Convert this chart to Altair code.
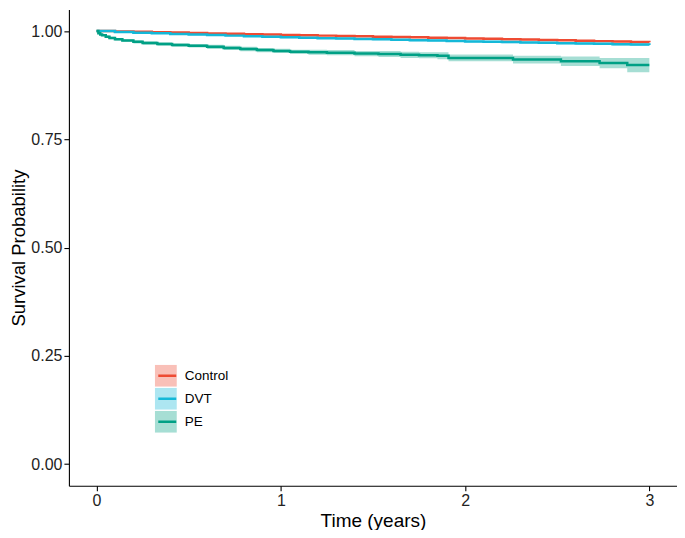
import altair as alt
import pandas as pd

groups = ["Control", "DVT", "PE"]
line_colors = ["#EE4B33", "#14B8D8", "#00A085"]

grid_t = [0.0, 0.1, 0.2, 0.3, 0.4, 0.5, 0.6, 0.7, 0.8, 0.9, 1.0, 1.1, 1.2, 1.3, 1.4, 1.5,
          1.6, 1.7, 1.8, 1.9, 2.0, 2.1, 2.2, 2.3, 2.4, 2.5, 2.6, 2.7, 2.8, 2.9, 3.0]

ctrl_s = [1.000, 0.9991, 0.9982, 0.9973, 0.9964, 0.9955, 0.9946, 0.9937, 0.9928, 0.9919, 0.9910,
          0.9902, 0.9894, 0.9886, 0.9878, 0.9870, 0.9862, 0.9854, 0.9846, 0.9838, 0.9830,
          0.9821, 0.9812, 0.9803, 0.9794, 0.9785, 0.9776, 0.9767, 0.9758, 0.9749, 0.9740]
ctrl_ci = [0.0, 0.0005, 0.0006, 0.0007, 0.0008, 0.0009, 0.0009, 0.001, 0.001, 0.001, 0.001,
           0.0011, 0.0011, 0.0012, 0.0012, 0.0012, 0.0013, 0.0013, 0.0013, 0.0014, 0.0014, 0.0014,
           0.0015, 0.0015, 0.0016, 0.0016, 0.0017, 0.0018, 0.0019, 0.002, 0.002]

dvt_s = [1.000, 0.9975, 0.9960, 0.9947, 0.9933, 0.9920, 0.9907, 0.9894, 0.9881, 0.9868, 0.9855,
         0.9846, 0.9836, 0.9827, 0.9817, 0.9808, 0.9798, 0.9789, 0.9779, 0.9770, 0.9760,
         0.9752, 0.9744, 0.9736, 0.9728, 0.9720, 0.9712, 0.9704, 0.9696, 0.9688, 0.9680]
dvt_ci = [0.0, 0.001, 0.0012, 0.0013, 0.0014, 0.0015, 0.0016, 0.0017, 0.0018, 0.0018, 0.0019,
          0.002, 0.002, 0.0021, 0.0021, 0.0022, 0.0022, 0.0023, 0.0023, 0.0024, 0.0024, 0.0025,
          0.0025, 0.0026, 0.0026, 0.0027, 0.0028, 0.0029, 0.003, 0.0031, 0.0032]

pe_t = [0.0, 0.01, 0.02, 0.03, 0.05, 0.07, 0.10, 0.14, 0.20, 0.25, 0.33, 0.41, 0.50, 0.60,
        0.69, 0.78, 0.87, 0.96, 1.05, 1.15, 1.25, 1.40, 1.53, 1.65, 1.75, 1.85, 1.91, 2.26,
        2.52, 2.73, 2.88, 3.00]
pe_s = [1.000, 0.995, 0.992, 0.990, 0.987, 0.984, 0.981, 0.978, 0.975, 0.9725, 0.970, 0.968,
        0.966, 0.9635, 0.961, 0.9585, 0.956, 0.954, 0.952, 0.951, 0.950, 0.948, 0.947, 0.945,
        0.944, 0.943, 0.938, 0.934, 0.930, 0.926, 0.9215, 0.9215]
pe_ci = [0.0, 0.002, 0.002, 0.002, 0.003, 0.003, 0.003, 0.003, 0.004, 0.004, 0.004, 0.004,
         0.004, 0.005, 0.005, 0.005, 0.005, 0.005, 0.005, 0.006, 0.006, 0.006, 0.007, 0.007,
         0.007, 0.008, 0.008, 0.009, 0.011, 0.012, 0.0165, 0.0165]

x_ticks = [0, 1, 2, 3]
y_ticks = [0.0, 0.25, 0.5, 0.75, 1.0]

rows = []
for g, ts, ss, cs in [("Control", grid_t, ctrl_s, ctrl_ci),
                      ("DVT", grid_t, dvt_s, dvt_ci),
                      ("PE", pe_t, pe_s, pe_ci)]:
    for t, s, c in zip(ts, ss, cs):
        rows.append({"group": g, "time": t, "surv": s, "lo": s - c, "hi": s + c})
df = pd.DataFrame(rows)
df["g2"] = df["group"] + " "
groups2 = [g + " " for g in groups]

FONT = "Liberation Sans"
xscale = alt.Scale(domain=[-0.15, 3.15], nice=False, zero=False)
yscale = alt.Scale(domain=[-0.05, 1.05], nice=False, zero=False)

common_axis = dict(grid=False, domainColor="black", tickColor="black", tickSize=5,
                   domainWidth=1.1, tickWidth=1.1, labelFontSize=16, labelColor="#222222",
                   labelFont=FONT, labelPadding=2, titleFont=FONT,
                   titleFontWeight="normal", titleColor="black")
xaxis = alt.Axis(values=x_ticks, format="d", title="Time (years)", titlePadding=3,
                 titleFontSize=19, **common_axis)
yaxis = alt.Axis(values=y_ticks, format=".2f", title="Survival Probability", titlePadding=2,
                 titleFontSize=18.5, **common_axis)

band = alt.Chart(df).mark_area(interpolate="step-after", opacity=0.35).encode(
    x=alt.X("time:Q", scale=xscale, axis=xaxis),
    y=alt.Y("lo:Q", scale=yscale, axis=yaxis),
    y2="hi:Q",
    fill=alt.Fill("group:N", scale=alt.Scale(domain=groups, range=line_colors),
                  legend=alt.Legend(title=None, orient="none", legendX=86, legendY=356,
                                    symbolType="square", symbolSize=484, symbolOpacity=0.35,
                                    symbolStrokeWidth=0, rowPadding=1, padding=0,
                                    clipHeight=22,
                                    labelFontSize=13.5, labelFont=FONT, labelColor="black",
                                    labelOffset=8)),
)

line = alt.Chart(df).mark_line(interpolate="step-after", strokeWidth=2.5).encode(
    x=alt.X("time:Q", scale=xscale),
    y=alt.Y("surv:Q", scale=yscale),
    stroke=alt.Stroke("g2:N", scale=alt.Scale(domain=groups2, range=line_colors),
                      legend=alt.Legend(title=None, orient="none", legendX=88, legendY=356,
                                        symbolType="stroke", symbolSize=324, symbolStrokeWidth=2.5,
                                        rowPadding=1, padding=0, clipHeight=22,
                                        labelFontSize=13.5, labelFont=FONT,
                                        labelExpr="''", labelOffset=8)),
)

chart = alt.layer(band, line).properties(
    width=609, height=477,
    padding={"left": 61, "top": 1, "right": 0, "bottom": 44},
    autosize=alt.AutoSizeParams(type="none"),
).configure_view(stroke=None)

chart.save("out.html", embed_options={"renderer": "svg", "actions": False})
